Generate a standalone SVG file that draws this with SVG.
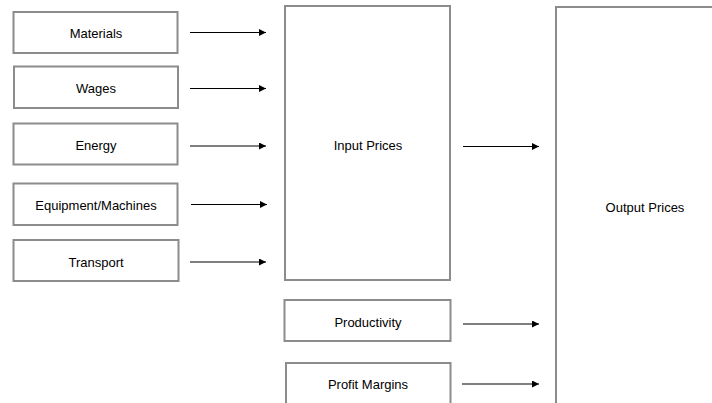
<svg xmlns="http://www.w3.org/2000/svg" width="712" height="403" viewBox="0 0 712 403">
<style>
.box{fill:#fff;stroke:#8c8c8c;stroke-width:2}
.lbl{font-family:"Liberation Sans",Arial,sans-serif;font-size:13px;fill:#000;text-anchor:middle;dominant-baseline:central}
.conn{stroke:#000;stroke-width:1.2;fill:none;marker-end:url(#ah)}
</style>
<defs>
<marker id="ah" viewBox="0 0 10 10" refX="10" refY="5" markerWidth="8" markerHeight="7" markerUnits="userSpaceOnUse" orient="auto">
<path d="M0,0 L10,5 L0,10 Z" fill="#000"/>
</marker>
</defs>
<rect width="712" height="403" fill="#fff"/>
<g id="materials"><rect class="box" x="13.5" y="12" width="164" height="41"/><text class="lbl" x="96" y="33">Materials</text></g>
<g id="wages"><rect class="box" x="14" y="66.5" width="164" height="41.5"/><text class="lbl" x="96" y="88">Wages</text></g>
<g id="energy"><rect class="box" x="13.5" y="123.5" width="164" height="41"/><text class="lbl" x="96" y="145">Energy</text></g>
<g id="equipment"><rect class="box" x="13.5" y="183.5" width="164" height="41.5"/><text class="lbl" x="96" y="205">Equipment/Machines</text></g>
<g id="transport"><rect class="box" x="13.5" y="240" width="165" height="41"/><text class="lbl" x="96" y="262">Transport</text></g>
<g id="input-prices"><rect class="box" x="285" y="6" width="165" height="274"/><text class="lbl" x="368" y="145">Input Prices</text></g>
<g id="productivity"><rect class="box" x="284.5" y="300" width="166" height="41"/><text class="lbl" x="368" y="322">Productivity</text></g>
<g id="profit-margins"><rect class="box" x="286" y="363" width="164.5" height="50"/><text class="lbl" x="368" y="384">Profit Margins</text></g>
<g id="output-prices"><rect class="box" x="556" y="7" width="180" height="410"/><text class="lbl" x="645" y="207">Output Prices</text></g>
<g id="connectors">
<line class="conn" x1="190" y1="32.5" x2="266" y2="32.5"/>
<line class="conn" x1="190" y1="88.5" x2="266" y2="88.5"/>
<line class="conn" x1="190" y1="146" x2="266" y2="146"/>
<line class="conn" x1="191" y1="204.5" x2="267" y2="204.5"/>
<line class="conn" x1="190" y1="262" x2="266" y2="262"/>
<line class="conn" x1="463" y1="146.5" x2="539" y2="146.5"/>
<line class="conn" x1="463" y1="324" x2="539" y2="324"/>
<line class="conn" x1="462" y1="384" x2="539" y2="384"/>
</g>
</svg>
